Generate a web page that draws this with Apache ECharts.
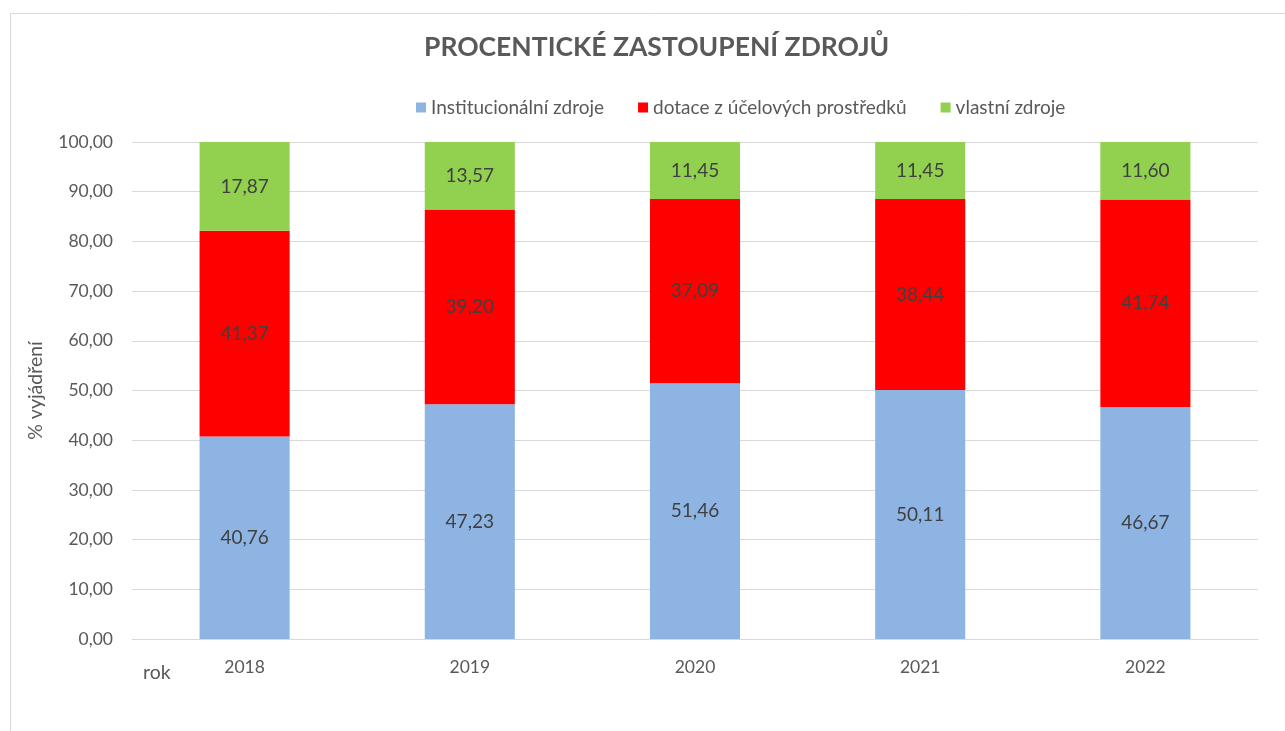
<!DOCTYPE html>
<html>
<head>
<meta charset="utf-8">
<script src="https://cdn.jsdelivr.net/npm/echarts@6/dist/echarts.min.js"></script>
<style>
  html, body { margin: 0; padding: 0; background: #fff; }
  #chart { width: 1285px; height: 731px; }
</style>
</head>
<body>
<div id="chart"></div>
<script>
var years = ['2018', '2019', '2020', '2021', '2022'];
var institucionalni = [40.76, 47.23, 51.46, 50.11, 46.67];
var dotace = [41.37, 39.20, 37.09, 38.44, 41.74];
var vlastni = [17.87, 13.57, 11.45, 11.45, 11.60];
var seriesNames = ['Institucionální zdroje', 'dotace z účelových prostředků', 'vlastní zdroje'];
var seriesColors = ['#8EB4E3', '#FF0000', '#92D050'];

var font = 'Lato, "Open Sans", sans-serif';

function fmt(v) {
    return v.toFixed(2).replace('.', ',');
}

function bar(name, data, color) {
    return {
        name: name,
        type: 'bar',
        stack: 'total',
        barWidth: '40%',
        data: data,
        itemStyle: { color: color },
        label: {
            show: true,
            position: 'inside',
            color: '#404040',
            fontFamily: font,
            fontSize: 19,
            formatter: function (p) { return fmt(p.value); }
        },
        emphasis: { disabled: true },
        animation: false
    };
}

var chart = echarts.init(document.getElementById('chart'));

chart.setOption({
    title: {
        text: 'PROCENTICKÉ ZASTOUPENÍ ZDROJŮ',
        left: 419,
        top: 29,
        textStyle: {
            color: '#595959',
            fontFamily: font,
            fontWeight: 'bold',
            fontSize: 26.5
        }
    },
    legend: {
        top: 93,
        left: 411,
        icon: 'rect',
        itemWidth: 10,
        itemHeight: 10,
        itemGap: 34,
        textStyle: { color: '#595959', fontFamily: font, fontSize: 19 },
        data: seriesNames
    },
    grid: {
        left: 132,
        right: 27,
        top: 142,
        bottom: 92,
        containLabel: false
    },
    xAxis: {
        type: 'category',
        data: years,
        axisLine: { lineStyle: { color: '#D9D9D9', width: 1 } },
        axisTick: { show: false },
        axisLabel: { color: '#595959', fontFamily: font, fontSize: 17.5, margin: 19 }
    },
    yAxis: {
        type: 'value',
        min: 0,
        max: 100,
        interval: 10,
        name: '% vyjádření',
        nameLocation: 'middle',
        nameRotate: 90,
        nameGap: 86,
        nameTextStyle: { color: '#595959', fontFamily: font, fontSize: 19.5 },
        axisLine: { show: false },
        axisTick: { show: false },
        axisLabel: {
            color: '#595959',
            fontFamily: font,
            fontSize: 17.5,
            margin: 19,
            formatter: function (v) { return fmt(v); }
        },
        splitLine: { lineStyle: { color: '#D9D9D9', width: 1 } }
    },
    graphic: [
        {
            type: 'rect',
            left: 8,
            top: 11,
            shape: { width: 1300, height: 740 },
            style: { fill: 'none', stroke: '#D9D9D9', lineWidth: 1 },
            silent: true,
            z: -1
        },
        {
            type: 'text',
            left: 143,
            top: 663,
            style: { text: 'rok', fill: '#595959', font: '19.5px ' + font }
        }
    ],
    series: [
        bar(seriesNames[0], institucionalni, seriesColors[0]),
        bar(seriesNames[1], dotace, seriesColors[1]),
        bar(seriesNames[2], vlastni, seriesColors[2])
    ]
});
</script>
</body>
</html>
